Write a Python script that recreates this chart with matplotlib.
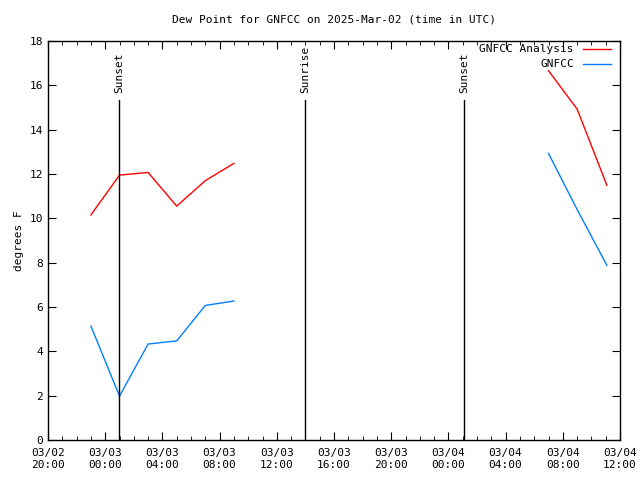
import matplotlib
matplotlib.use("Agg")
import matplotlib.pyplot as plt
import matplotlib.dates as mdates
from datetime import datetime

plt.rcParams['font.family'] = ['DejaVu Sans Mono']

analysis_times = ["2025-03-02 23:00", "2025-03-03 01:00", "2025-03-03 03:00",
                  "2025-03-03 05:00", "2025-03-03 07:00", "2025-03-03 09:00",
                  None,
                  "2025-03-04 07:00", "2025-03-04 09:00", "2025-03-04 11:05"]
analysis_vals = [10.15, 11.95, 12.07, 10.55, 11.7, 12.48, None, 16.66, 14.93, 11.49]
obs_vals = [5.14, 1.98, 4.33, 4.47, 6.07, 6.27, None, 12.93, 10.4, 7.88]

sun_events = ["2025-03-03 00:58", "2025-03-03 13:58", "2025-03-04 01:06"]
sun_labels = ["Sunset", "Sunrise", "Sunset"]
sun_line_top = 15.35

x_start = "2025-03-02 20:00"
x_end = "2025-03-04 12:00"

def parse(s):
    return datetime.strptime(s, "%Y-%m-%d %H:%M")

def segments(times, vals):
    segs, cur_t, cur_v = [], [], []
    for t, v in zip(times, vals):
        if t is None or v is None:
            if cur_t:
                segs.append((cur_t, cur_v))
            cur_t, cur_v = [], []
        else:
            cur_t.append(parse(t)); cur_v.append(v)
    if cur_t:
        segs.append((cur_t, cur_v))
    return segs

fig = plt.figure(figsize=(6.4, 4.8), dpi=100)
ax = fig.add_axes([48/640, 40/480, 572/640, 399/480])

red = "#ff0000"
blue = "#0080ff"
for i, (t, v) in enumerate(segments(analysis_times, analysis_vals)):
    ax.plot(t, v, color=red, lw=1, label="GNFCC Analysis" if i == 0 else None)
for i, (t, v) in enumerate(segments(analysis_times, obs_vals)):
    ax.plot(t, v, color=blue, lw=1, label="GNFCC" if i == 0 else None)

for s, lab in zip(sun_events, sun_labels):
    d = parse(s)
    ax.plot([d, d], [0, sun_line_top], color="black", lw=1)
    ax.text(d, sun_line_top + 0.3, lab, rotation=90, ha="center", va="bottom", fontsize=8)

ax.set_xlim(parse(x_start), parse(x_end))
ax.set_ylim(0, 18)
ax.set_yticks(range(0, 19, 2))
ax.xaxis.set_major_locator(mdates.HourLocator(byhour=[0, 4, 8, 12, 16, 20]))
ax.xaxis.set_minor_locator(mdates.HourLocator())
ax.xaxis.set_major_formatter(mdates.DateFormatter("%m/%d\n%H:%M"))
ax.tick_params(axis="both", which="both", direction="in", top=True, right=True, labelsize=8)
ax.tick_params(which="major", length=6)
ax.tick_params(which="minor", length=3)
ax.tick_params(axis="x", pad=6)
for sp in ax.spines.values():
    sp.set_linewidth(1)

ax.set_ylabel("degrees F", fontsize=8)
ax.set_title("Dew Point for GNFCC on 2025-Mar-02 (time in UTC)", fontsize=8, pad=13)

leg = ax.legend(loc="upper right", fontsize=8, frameon=False, markerfirst=False,
                handlelength=2.5, borderaxespad=0.0, labelspacing=0.45, handletextpad=0.8,
                bbox_to_anchor=(1 - 5/572, 1 + 1/399))
for t in leg.get_texts():
    t.set_ha("right")

fig.savefig("out.png", dpi=100)
